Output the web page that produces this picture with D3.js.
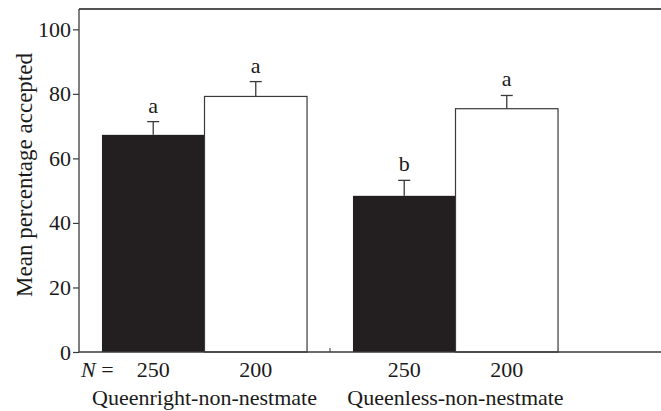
<!DOCTYPE html>
<html>
<head>
<meta charset="utf-8">
<script src="https://cdn.jsdelivr.net/npm/d3@7"></script>
<style>
  body { margin: 0; background: #fff; }
</style>
</head>
<body>
<svg id="chart" width="661" height="411"></svg>
<script>
var groups = ["Queenright-non-nestmate", "Queenless-non-nestmate"];
var sizes = ["250", "200"];
var means = [[67.3, 79.2], [48.4, 75.4]];
var errTops = [[71.4, 83.8], [53.2, 79.5]];
var letters = [["a", "a"], ["b", "a"]];
var yTicks = [0, 20, 40, 60, 80, 100];

var W = 661, H = 411;
var margin = {top: 9, left: 79, bottom: 59};
var FONT = 22;
var SERIF = "'Liberation Serif', 'DejaVu Serif', 'Times New Roman', serif";
var INK = "#1a1a1a", LINE = "#3a3a3a";

var svg = d3.select("#chart");

var x0 = d3.scaleBand().domain(groups).range([margin.left, 581]).paddingInner(0.183).paddingOuter(0.0915);
var x1 = d3.scaleBand().domain(sizes.map(function(d, i) { return i; })).range([0, x0.bandwidth()]);
var y = d3.scaleLinear().domain([0, 106.3]).range([H - margin.bottom, margin.top]);

function label(sel) {
  return sel.attr("font-family", SERIF).attr("font-size", FONT).attr("fill", INK);
}

var g = svg.append("g");

// bars
groups.forEach(function(grp, gi) {
  var bg = g.append("g").attr("transform", "translate(" + x0(grp) + ",0)");
  means[gi].forEach(function(m, i) {
    bg.append("rect")
      .attr("x", x1(i))
      .attr("width", x1.bandwidth())
      .attr("y", y(m))
      .attr("height", y(0) - y(m))
      .attr("fill", i === 0 ? "#231f20" : "#fff")
      .attr("stroke", i === 0 ? "none" : LINE)
      .attr("stroke-width", 1.2);

    var cx = x1(i) + x1.bandwidth() / 2;
    bg.append("line")
      .attr("x1", cx).attr("x2", cx)
      .attr("y1", y(m)).attr("y2", y(errTops[gi][i]))
      .attr("stroke", LINE).attr("stroke-width", 1.3);
    bg.append("line")
      .attr("x1", cx - 6).attr("x2", cx + 6)
      .attr("y1", y(errTops[gi][i])).attr("y2", y(errTops[gi][i]))
      .attr("stroke", LINE).attr("stroke-width", 1.3);
    bg.append("text")
      .attr("x", cx)
      .attr("y", y(errTops[gi][i]) - 9)
      .attr("text-anchor", "middle")
      .call(label)
      .text(letters[gi][i]);

    bg.append("text")
      .attr("x", cx)
      .attr("y", y(0) + 25)
      .attr("text-anchor", "middle")
      .call(label)
      .text(sizes[i]);
  });
  bg.append("text")
    .attr("x", x0.bandwidth() / 2)
    .attr("y", y(0) + 53)
    .attr("text-anchor", "middle")
    .call(label)
    .text(grp);
});

// frame
g.append("line")
  .attr("x1", margin.left).attr("x2", W)
  .attr("y1", y.range()[1]).attr("y2", y.range()[1])
  .attr("stroke", INK).attr("stroke-width", 1.3);
g.append("line")
  .attr("x1", margin.left).attr("x2", W)
  .attr("y1", y(0)).attr("y2", y(0))
  .attr("stroke", LINE).attr("stroke-width", 1.3);
// tick between groups
g.append("line")
  .attr("x1", x0.step() + margin.left).attr("x2", x0.step() + margin.left)
  .attr("y1", y(0)).attr("y2", y(0) - 4)
  .attr("stroke", LINE).attr("stroke-width", 1);

// y axis
var yAxis = d3.axisLeft(y).tickValues(yTicks).tickSize(6).tickPadding(2);
var ya = g.append("g")
  .attr("transform", "translate(" + margin.left + ",0)")
  .call(yAxis);
ya.attr("font-family", SERIF).attr("font-size", FONT);
ya.select(".domain").attr("d", "M0," + y.range()[1] + "V" + y(0)).attr("stroke", LINE).attr("stroke-width", 1.3);
ya.selectAll(".tick line").attr("stroke", LINE).attr("stroke-width", 1.2);
ya.selectAll(".tick text").call(label);

svg.append("text")
  .attr("transform", "translate(32,175) rotate(-90)")
  .attr("text-anchor", "middle")
  .call(label)
  .attr("font-size", 23)
  .text("Mean percentage accepted");

var nLab = svg.append("text")
  .attr("x", 81)
  .attr("y", y(0) + 25)
  .call(label);
nLab.append("tspan").attr("font-style", "italic").text("N");
nLab.append("tspan").text(" =");
</script>
</body>
</html>
